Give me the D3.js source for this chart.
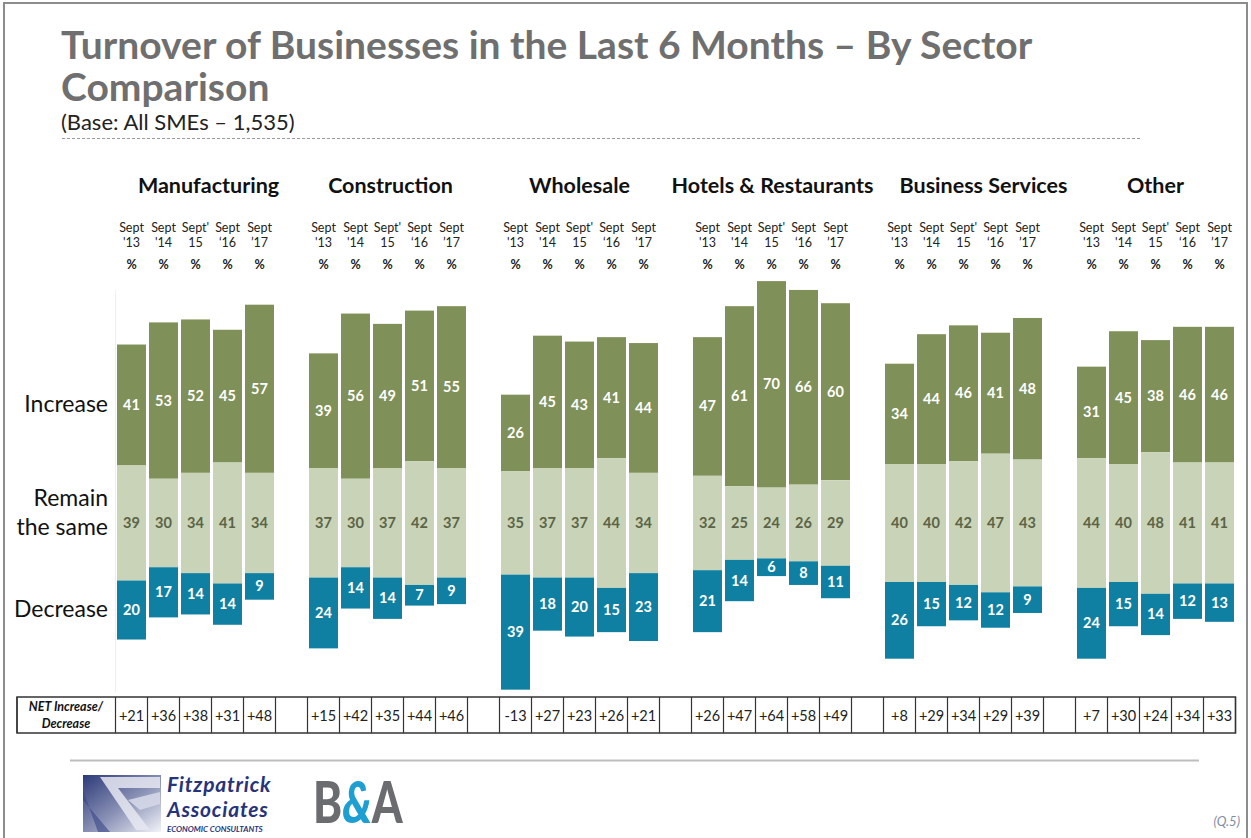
<!DOCTYPE html>
<html>
<head>
<meta charset="utf-8">
<script src="https://cdn.jsdelivr.net/npm/d3@7"></script>
<style>
  html, body { margin: 0; padding: 0; background: #fff; }
  svg { display: block; }
  text { font-family: Lato, "Open Sans", sans-serif; }
</style>
</head>
<body>
<svg id="chart" width="1251" height="838"></svg>
<script>
// Sector groups and survey waves
const sectors = ["Manufacturing", "Construction", "Wholesale", "Hotels & Restaurants", "Business Services", "Other"];
const waves = ["Sept\n'13", "Sept\n'14", "Sept'\n15", "Sept\n\u201816", "Sept\n\u201917"];

// Percentages per sector, one value per wave
const increase = [
  [41, 53, 52, 45, 57],
  [39, 56, 49, 51, 55],
  [26, 45, 43, 41, 44],
  [47, 61, 70, 66, 60],
  [34, 44, 46, 41, 48],
  [31, 45, 38, 46, 46]
];
const remain = [
  [39, 30, 34, 41, 34],
  [37, 30, 37, 42, 37],
  [35, 37, 37, 44, 34],
  [32, 25, 24, 26, 29],
  [40, 40, 42, 47, 43],
  [44, 40, 48, 41, 41]
];
const decrease = [
  [20, 17, 14, 14, 9],
  [24, 14, 14, 7, 9],
  [39, 18, 20, 15, 23],
  [21, 14, 6, 8, 11],
  [26, 15, 12, 12, 9],
  [24, 15, 14, 12, 13]
];
const netChange = [
  [21, 36, 38, 31, 48],
  [15, 42, 35, 44, 46],
  [-13, 27, 23, 26, 21],
  [26, 47, 64, 58, 49],
  [8, 29, 34, 29, 39],
  [7, 30, 24, 34, 33]
];
const rowLabels = [["Increase"], ["Remain", "the same"], ["Decrease"]];

const colors = { inc: "#7f9058", rem: "#c9d3b8", dec: "#0f80a2", remText: "#5b6446" };

const svg = d3.select("#chart");

// Slide frame
svg.append("rect").attr("x", 4).attr("y", 3).attr("width", 1243).attr("height", 850)
  .attr("fill", "none").attr("stroke", "#8c8c8c").attr("stroke-width", 2);

// Title block
const title = svg.append("g").attr("fill", "#6f6f6f").attr("font-weight", 700).attr("font-size", 39);
title.append("text").attr("x", 61).attr("y", 59).text("Turnover of Businesses in the Last 6 Months \u2013 By Sector");
title.append("text").attr("x", 61).attr("y", 101).text("Comparison");
svg.append("text").attr("x", 61).attr("y", 130).attr("font-size", 22).attr("fill", "#222")
  .text("(Base: All SMEs \u2013 1,535)");
svg.append("line").attr("x1", 62).attr("x2", 1140).attr("y1", 138.5).attr("y2", 138.5)
  .attr("stroke", "#9a9a9a").attr("stroke-dasharray", "3,2").attr("stroke-width", 1);

// Scales
const x0 = d3.scaleBand().domain(sectors).range([117, 117 + 6 * 192]);
const x1 = d3.scaleBand().domain(waves).range([0, 157]).paddingInner(3 / 32);
// vertical position measured from the middle of the "remain" block
const y = d3.scaleLinear().domain([-60, 85]).range([523 + 60 * 2.95, 523 - 85 * 2.95]);

// faint plot edge
svg.append("line").attr("x1", 115.5).attr("x2", 115.5).attr("y1", 290).attr("y2", 692)
  .attr("stroke", "#efefef");

// Row labels
const rowY = [[412], [506, 535], [617]];
const rl = svg.append("g").attr("font-size", 23).attr("fill", "#111").attr("text-anchor", "end");
rowLabels.forEach((lines, i) => lines.forEach((t, j) =>
  rl.append("text").attr("x", 108).attr("y", rowY[i][j]).text(t)));

const headerShift = [13, 3, 0, 1, 20, 0];

sectors.forEach((s, si) => {
  const g = svg.append("g").attr("transform", `translate(${x0(s)},0)`);
  const cx = x1.bandwidth() / 2;

  // sector header
  g.append("text").attr("x", 78.5 + headerShift[si]).attr("y", 193)
    .attr("text-anchor", "middle").attr("font-weight", 700).attr("font-size", 21.5).attr("fill", "#111")
    .text(s);

  waves.forEach((w, wi) => {
    const bx = x1(w);
    const parts = w.split("\n");
    const hd = g.append("g").attr("font-size", 12.5).attr("fill", "#222").attr("text-anchor", "middle");
    hd.append("text").attr("x", bx + cx).attr("y", 232).text(parts[0]);
    hd.append("text").attr("x", bx + cx).attr("y", 247).text(parts[1]);
    hd.append("text").attr("x", bx + cx).attr("y", 269).attr("font-weight", 700).text("%");

    const r = remain[si][wi], inc = increase[si][wi], dec = decrease[si][wi];
    const segs = [
      { lo: r / 2, hi: r / 2 + inc, fill: colors.inc, txt: "#fff", v: inc },
      { lo: -r / 2, hi: r / 2, fill: colors.rem, txt: colors.remText, v: r },
      { lo: -r / 2 - dec, hi: -r / 2, fill: colors.dec, txt: "#fff", v: dec }
    ];
    segs.forEach(sg => {
      g.append("rect").attr("x", bx).attr("width", x1.bandwidth())
        .attr("y", y(sg.hi)).attr("height", y(sg.lo) - y(sg.hi)).attr("fill", sg.fill);
      g.append("text").attr("x", bx + cx).attr("y", (y(sg.lo) + y(sg.hi)) / 2 + 5)
        .attr("text-anchor", "middle").attr("font-weight", 700).attr("font-size", 14.5)
        .attr("fill", sg.txt).text(sg.v);
    });
  });
});

// NET table
const tTop = 697, tBot = 733;
const table = svg.append("g");
const cellLines = [17, 115.5];
sectors.forEach((s, si) => {
  waves.forEach((w, wi) => cellLines.push(x0(s) + x1(w) - 1.5 + 32));
  if (si < sectors.length - 1) cellLines.push(x0(s) + 160 - 1.5 + 32);
});
table.append("rect").attr("x", 17).attr("y", tTop).attr("width", d3.max(cellLines) - 17).attr("height", tBot - tTop)
  .attr("fill", "none").attr("stroke", "#333").attr("stroke-width", 1.5);
cellLines.forEach(xv => table.append("line").attr("x1", xv).attr("x2", xv).attr("y1", tTop).attr("y2", tBot)
  .attr("stroke", "#333").attr("stroke-width", 1.2));
const nh = table.append("g").attr("font-size", 12.5).attr("font-weight", 700).attr("font-style", "italic")
  .attr("fill", "#111").attr("text-anchor", "middle");
nh.append("text").attr("x", 66).attr("y", 711).text("NET Increase/");
nh.append("text").attr("x", 66).attr("y", 728).text("Decrease");
sectors.forEach((s, si) => {
  waves.forEach((w, wi) => {
    const v = netChange[si][wi];
    table.append("text").attr("x", x0(s) + x1(w) + 14.5).attr("y", 720.5)
      .attr("text-anchor", "middle").attr("font-size", 14.5).attr("fill", "#222")
      .text(v > 0 ? "+" + v : String(v));
  });
});

// Footer rule
svg.append("line").attr("x1", 70).attr("x2", 1199).attr("y1", 760.5).attr("y2", 760.5)
  .attr("stroke", "#bdbdbd").attr("stroke-width", 2);

// Fitzpatrick Associates mark
const defs = svg.append("defs");
const grad = defs.append("linearGradient").attr("id", "fa-grad").attr("x1", "0").attr("y1", "0").attr("x2", "1").attr("y2", "1");
grad.append("stop").attr("offset", "0").attr("stop-color", "#2c3a78");
grad.append("stop").attr("offset", "0.55").attr("stop-color", "#8d94b8");
grad.append("stop").attr("offset", "1").attr("stop-color", "#f2f3f8");
const fa = svg.append("g");
fa.append("rect").attr("x", 83).attr("y", 775).attr("width", 78).attr("height", 57).attr("fill", "url(#fa-grad)");
fa.append("path").attr("d", "M100,777 L160,777 L160,788 L118,788 L150,830 L136,830 Z").attr("fill", "#e6e8f1").attr("opacity", 0.85);
fa.append("path").attr("d", "M128,800 L160,792 L160,804 L140,810 Z").attr("fill", "#d4d7e6").attr("opacity", 0.9);
fa.append("path").attr("d", "M83,790 L98,832 L110,832 L83,800 Z").attr("fill", "#3a4686").attr("opacity", 0.6);
const faText = svg.append("g").attr("fill", "#27337a").attr("font-style", "italic").attr("font-weight", 700);
faText.append("text").attr("x", 167).attr("y", 792).attr("font-size", 21)
  .attr("letter-spacing", 0.8).text("Fitzpatrick");
faText.append("text").attr("x", 167).attr("y", 817).attr("font-size", 21)
  .attr("letter-spacing", 0.8).text("Associates");
faText.append("text").attr("x", 167).attr("y", 832).attr("font-size", 8)
  .text("ECONOMIC CONSULTANTS");

// B&A mark, stretched vertically into a block
svg.append("text").attr("transform", "translate(313,823) scale(1,1.3)")
  .attr("font-weight", 900).attr("font-size", 44).attr("fill", "#6b6c6f")
  .call(t => {
    t.append("tspan").text("B");
    t.append("tspan").attr("fill", "#1e9fd2").attr("font-style", "italic").text("&");
    t.append("tspan").text("A");
  });

// Question reference
svg.append("text").attr("x", 1240).attr("y", 826).attr("text-anchor", "end").attr("font-size", 13)
  .attr("font-style", "italic").attr("fill", "#7f8ea5").text("(Q.5)");
</script>
</body>
</html>
